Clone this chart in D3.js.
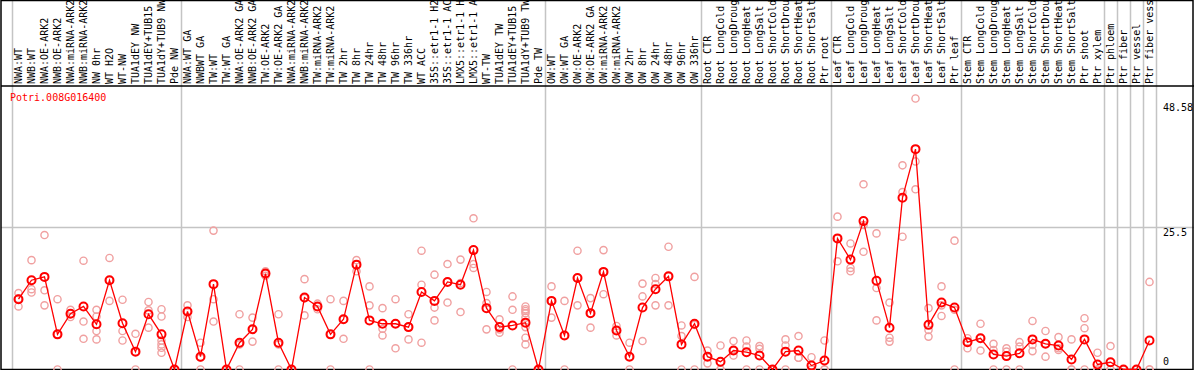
<!DOCTYPE html>
<html>
<head>
<meta charset="utf-8">
<script src="https://d3js.org/d3.v7.min.js"></script>
<title>Potri.008G016400</title>
</head>
<style>
body {
  margin: 0;
  background: white;
}
svg {
  display: block;
}
text {
  font-family: "DejaVu Sans Mono", monospace;
  font-size: 10px;
}
</style>
<body>
<svg id="svg" width="1194" height="370"></svg>
<script>

let geneName = "Potri.008G016400";

let samples = [
  "NWA:WT", "NWB:WT", "NWA:OE-ARK2", "NWB:OE-ARK2", "NWA:miRNA-ARK2", "NWB:miRNA-ARK2",
  "NW 0hr", "WT H2O", "WT-NW", "TUA1dEY NW", "TUA1dEY+TUB15", "TUA1dY+TUB9 NW", "Pde NW",
  "NWA:WT GA", "NWBWT GA", "TW:WT", "TW:WT GA", "NWA:OE-ARK2 GA", "NWB:OE-ARK2 GA",
  "TW:OE-ARK2", "TW:OE-ARK2 GA", "NWA:miRNA-ARK2", "NWB:miRNA-ARK2", "TW:miRNA-ARK2",
  "TW:miRNA-ARK2", "TW 2hr", "TW 8hr", "TW 24hr", "TW 48hr", "TW 96hr", "TW 336hr",
  "WT ACC", "35S::etr1-1 H2", "35S::etr1-1 AC", "LMX5::etr1-1 H", "LMX5::etr1-1 A",
  "WT-TW", "TUA1dEY TW", "TUA1dEY+TUB15", "TUA1dY+TUB9 TW", "Pde TW",
  "OW:WT", "OW:WT GA", "OW:OE-ARK2", "OW:OE-ARK2 GA", "OW:miRNA-ARK2", "OW:miRNA-ARK2",
  "OW 2hr", "OW 8hr", "OW 24hr", "OW 48hr", "OW 96hr", "OW 336hr",
  "Root CTR", "Root LongCold", "Root LongDroug", "Root LongHeat", "Root LongSalt",
  "Root ShortCold", "Root ShortDrou", "Root ShortHeat", "Root ShortSalt", "Ptr root",
  "Leaf CTR", "Leaf LongCold", "Leaf LongDroug", "Leaf LongHeat", "Leaf LongSalt",
  "Leaf ShortCold", "Leaf ShortDrou", "Leaf ShortHeat", "Leaf ShortSalt", "Ptr leaf",
  "Stem CTR", "Stem LongCold", "Stem LongDroug", "Stem LongHeat", "Stem LongSalt",
  "Stem ShortCold", "Stem ShortDrou", "Stem ShortHeat", "Stem ShortSalt", "Ptr shoot",
  "Ptr xylem", "Ptr phloem", "Ptr fiber", "Ptr vessel", "Ptr fiber vess"
];

// mean expression per sample
let means = [
  12.6, 16.0, 16.6, 6.3, 10.0, 11.3, 8.1, 16.0, 8.3, 3.2, 9.9, 6.3, 0,
  10.4, 2.3, 15.3, 0, 4.8, 7.2, 17.2, 4.8, 0, 12.9, 11.3, 6.3, 9.0, 18.8, 8.8,
  8.2, 8.2, 7.6, 13.9, 12.3, 15.7, 15.2, 21.4, 11.0, 7.6, 7.9, 8.4, 0,
  12.3, 6.1, 16.4, 10.1, 17.5, 7.0, 2.3, 11.1, 14.4, 16.7, 4.5, 8.2,
  2.3, 1.4, 3.4, 3.1, 2.5, 0, 3.2, 3.4, 0.7, 1.6,
  23.5, 19.7, 26.6, 15.9, 7.5, 30.8, 39.5, 8.0, 12.0, 11.1,
  4.9, 5.6, 2.7, 2.4, 2.9, 5.4, 4.6, 4.3, 1.8, 5.4,
  0.9, 1.3, 0, 0, 5.2
];

// single replicates per sample
let replicates = [
  [13.7, 12.7, 11.3], [19.6, 14.4, 13.8], [24.1, 14.2, 11.5], [12.6, 6.3, 0],
  [10.7, 10.0, 9.4], [19.5, 8.6, 5.5], [10.7, 9.5, 6.9, 5.4], [20.0, 16.0, 12.3],
  [12.5, 6.9, 5.2], [6.4, 3.2, 0], [12.1, 10.6, 7.5], [10.8, 9.5, 5.2, 4.5, 3.9, 3.0],
  [0, 0, 0],
  [11.5, 10.4, 9.4], [4.8, 2.1, 0], [24.9, 12.6, 8.6], [0, 0, 0], [9.9, 4.5, 0],
  [9.3, 7.2, 5.0], [17.6, 17.2, 16.8], [9.9, 4.5, 0], [0, 0, 0], [16.2, 12.8, 9.7],
  [11.8, 11.3, 10.8], [12.6, 6.3, 0], [12.3, 9.0, 5.5], [19.6, 18.8, 17.6],
  [14.9, 11.5, 0], [11.0, 7.3, 6.1], [12.6, 8.2, 3.8], [9.9, 7.6, 5.4],
  [21.3, 15.2, 4.8], [17.0, 11.1, 8.8], [18.9, 15.7, 12.0], [19.7, 15.5, 10.3],
  [27.1, 18.9, 18.2], [13.9, 11.9, 7.2], [9.0, 7.2, 6.6], [13.1, 10.7, 0],
  [11.3, 10.8, 10.5, 10.1, 9.3, 7.6, 5.7, 4.5], [0, 0, 0],
  [14.9, 12.3, 9.3], [12.3, 6.1, 0], [21.3, 16.4, 11.5], [12.8, 10.1, 7.5],
  [21.4, 17.5, 13.5], [7.8, 7.0, 6.1], [4.8, 2.3, 0], [15.4, 13.1, 5.1],
  [16.4, 15.3, 11.5], [22.0, 16.7, 11.5], [7.9, 6.0, 0], [16.6, 8.0, 0],
  [3.4, 2.3, 1.1], [4.3, 0, 0], [5.1, 3.4, 2.5], [5.2, 4.1, 0], [4.2, 3.7, 0],
  [0, 0, 0], [5.4, 4.3, 0], [6.0, 2.1, 2.1], [2.2, 0, 0], [5.2, 0, 0],
  [27.4, 23.5, 19.4], [22.6, 18.2, 17.6], [33.2, 25.9, 21.1], [24.4, 14.6, 8.8],
  [12.0, 5.7, 5.0], [36.6, 31.8, 23.8], [48.58, 37.3, 32.3], [11.0, 7.1, 5.9],
  [14.9, 11.5, 9.6], [23.1, 10.7, 0],
  [5.6, 4.9, 3.8], [8.2, 5.6, 3.4], [4.6, 3.5, 0], [3.8, 3.2, 0], [4.9, 4.1, 0],
  [8.7, 4.4, 3.3], [6.9, 4.6, 2.3], [5.8, 3.8, 3.5], [5.4, 0, 0], [9.2, 7.4, 0],
  [3.0, 0, 0], [4.2, 0, 0], [0, 0, 0], [0, 0, 0], [15.7, 0, 0]
];

// sample index where a new group starts (gray separators)
let groupStarts = [0, 13, 41, 53, 63, 73, 84, 85, 86, 87, 88];

let yTicks = [0, 25.5, 48.58];
let yGrid = [25.5];

let width = 1194;
let height = 370;
let headerBottom = 86;
let plotBottom = 369;

let svg = d3.select("svg");

let x = d3.scaleBand()
  .domain(d3.range(samples.length))
  .range([12, 12 + 13 * samples.length])
  .padding(0);

let y = d3.scaleLinear()
  .domain([0, 48.58])
  .range([369.5, 98.5]);

function cx(i) {
  return x(i) + x.bandwidth() / 2;
}

function drawGrid() {
  let sepX = function(g) {
    return g < samples.length ? x(g) : x(samples.length - 1) + x.bandwidth();
  };
  svg.selectAll(".sep")
    .data(groupStarts)
    .enter().append("line")
      .attr("class", "sep")
      .attr("x1", function(d){ return sepX(d) + 0.5; })
      .attr("x2", function(d){ return sepX(d) + 0.5; })
      .attr("y1", 0)
      .attr("y2", plotBottom)
      .attr("stroke", "#c4c4c4")
      .attr("stroke-width", 1.5);

  svg.selectAll(".hgrid")
    .data(yGrid)
    .enter().append("line")
      .attr("class", "hgrid")
      .attr("x1", 1)
      .attr("x2", width)
      .attr("y1", function(d){ return Math.round(y(d)) + 0.5; })
      .attr("y2", function(d){ return Math.round(y(d)) + 0.5; })
      .attr("stroke", "#c4c4c4")
      .attr("stroke-width", 1.5);
}

function drawFrame() {
  svg.append("rect")
    .attr("x", 1).attr("y", 0.5)
    .attr("width", width - 2).attr("height", plotBottom)
    .attr("fill", "none")
    .attr("stroke", "black")
    .attr("stroke-width", 1.5);
  svg.append("line")
    .attr("x1", 1).attr("x2", width)
    .attr("y1", headerBottom).attr("y2", headerBottom)
    .attr("stroke", "black")
    .attr("stroke-width", 1.5);
}

function drawLabels() {
  svg.selectAll(".sample")
    .data(samples)
    .enter().append("text")
      .attr("class", "sample")
      .attr("transform", function(d, i){ return "translate(" + (cx(i) + 3.5) + "," + (headerBottom - 2) + ") rotate(-90)"; })
      .attr("fill", "black")
      .text(function(d){ return d; });

  svg.selectAll(".ytick")
    .data(yTicks)
    .enter().append("text")
      .attr("class", "ytick")
      .attr("x", 1163)
      .attr("y", function(d){ return Math.min(Math.max(y(d) + 9, 111), 365); })
      .attr("fill", "black")
      .text(function(d){ return d; });

  svg.append("text")
    .attr("x", 10)
    .attr("y", 101)
    .attr("fill", "#ff0000")
    .text(geneName);
}

function drawPoints() {
  let reps = [];
  replicates.forEach(function(r, i) {
    r.forEach(function(v) { reps.push({i: i, v: v}); });
  });

  svg.append("g").selectAll("circle")
    .data(reps)
    .enter().append("circle")
      .attr("cx", function(d){ return cx(d.i); })
      .attr("cy", function(d){ return y(d.v); })
      .attr("r", 3.6)
      .attr("fill", "none")
      .attr("stroke", "#f0a0a0")
      .attr("stroke-width", 1.4);

  let line = d3.line()
    .x(function(d, i){ return cx(i); })
    .y(function(d){ return y(d); });

  svg.append("path")
    .datum(means)
    .attr("d", line)
    .attr("fill", "none")
    .attr("stroke", "#ff0000")
    .attr("stroke-width", 1.3);

  svg.append("g").selectAll("circle")
    .data(means)
    .enter().append("circle")
      .attr("cx", function(d, i){ return cx(i); })
      .attr("cy", function(d){ return y(d); })
      .attr("r", 4)
      .attr("fill", "none")
      .attr("stroke", "#ff0000")
      .attr("stroke-width", 2);
}

drawGrid();
drawFrame();
drawPoints();
drawLabels();

</script>
</body>
</html>
